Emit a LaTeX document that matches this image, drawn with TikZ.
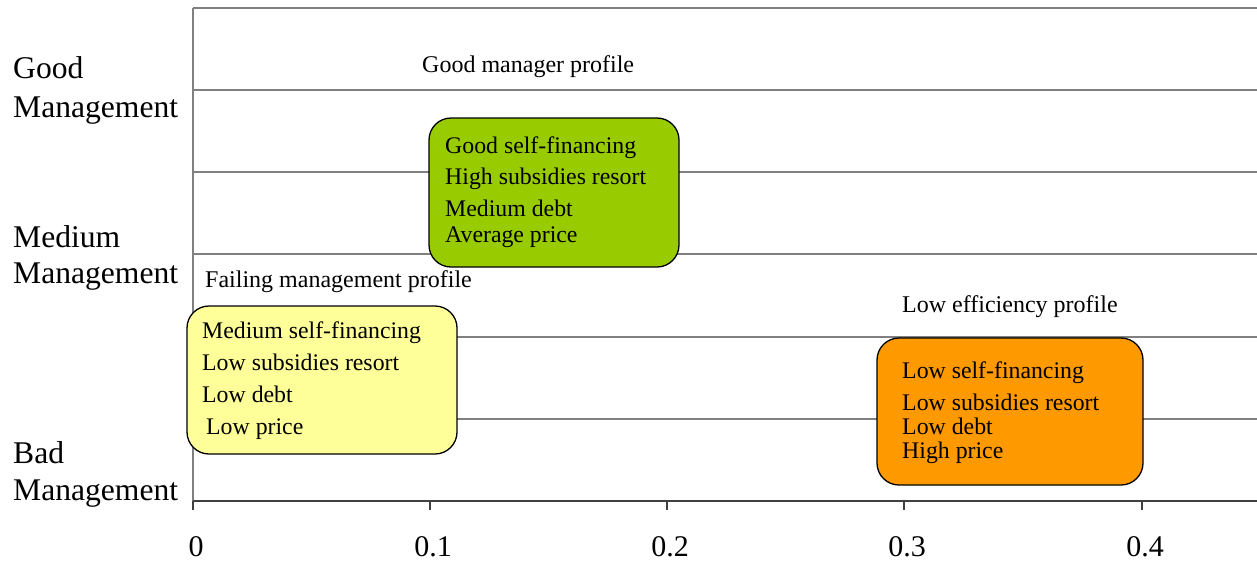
\documentclass[tikz,border=0pt]{standalone}
\usepackage{fontspec}
\setmainfont{Liberation Serif}[Ligatures=NoCommon]
\definecolor{gridc}{HTML}{808080}
\definecolor{axisc}{HTML}{404040}
\definecolor{greenbox}{HTML}{99CC00}
\definecolor{yellowbox}{HTML}{FFFF99}
\definecolor{orangebox}{HTML}{FF9900}
\begin{document}
\begin{tikzpicture}[x=1pt,y=-1pt,
  gridline/.style={draw=gridc,line width=1.2pt},
  axisline/.style={draw=axisc,line width=1.4pt},
  profilebox/.style={draw=black,line width=1.3pt,rounded corners=22pt},
  boxtext/.style={anchor=base west,inner sep=0pt,font=\fontsize{23.8}{28}\selectfont},
  labeltext/.style={anchor=base west,inner sep=0pt,font=\fontsize{24}{28}\selectfont},
  ylabel/.style={anchor=base west,inner sep=0pt,font=\fontsize{31.6}{38}\selectfont},
  ticklabel/.style={anchor=base,inner sep=0pt,font=\fontsize{30}{36}\selectfont}]
\useasboundingbox (0,0) rectangle (1257,563);
% coordinates
\coordinate (o) at (193,501);
\coordinate (top) at (193,8);
\coordinate (topr) at (1257,8);
\coordinate (xr) at (1257,501);
\foreach \y [count=\i] in {90,172,254,337,419} {
  \coordinate (gl\i) at (193,\y);
  \coordinate (gr\i) at (1257,\y);
}
% grid
\foreach \i in {1,...,5} { \draw[gridline] (gl\i) -- (gr\i); }
\draw[gridline] (top) -- (topr);
\draw[gridline] (o) -- (top);
\draw[axisline] (o) -- (xr);
% ticks
\foreach \x/\lab [count=\i] in {193/0,430/0.1,667/0.2,904/0.3,1142/0.4} {
  \coordinate (t\i) at (\x,501);
  \coordinate (tb\i) at (\x,510);
  \draw[axisline] (t\i) -- (tb\i);
  \node[ticklabel] (tl\i) at (\x+3,556) {\lab};
}
% y labels
\node[ylabel] (yg1) at (13,78) {Good};
\node[ylabel] (yg2) at (13,117) {Management};
\node[ylabel] (ym1) at (13,247) {Medium};
\node[ylabel] (ym2) at (13,283) {Management};
\node[ylabel] (yb1) at (13,463) {Bad};
\node[ylabel] (yb2) at (13,500) {Management};
% profile labels
\node[labeltext] (lgood) at (422,72) {Good manager profile};
\node[labeltext] (lfail) at (205,287) {Failing management profile};
\node[labeltext] (llow) at (902,312) {Low efficiency profile};
% green box
\path[profilebox,fill=greenbox] (429,118) rectangle (679,267);
\node[boxtext] (g1) at (445,153) {Good self-financing};
\node[boxtext] (g2) at (445,184) {High subsidies resort};
\node[boxtext] (g3) at (445,216) {Medium debt};
\node[boxtext] (g4) at (445,242) {Average price};
% yellow box
\path[profilebox,fill=yellowbox] (187,306) rectangle (457,454);
\node[boxtext] (y1) at (202,338) {Medium self-financing};
\node[boxtext] (y2) at (202,370) {Low subsidies resort};
\node[boxtext] (y3) at (202,402) {Low debt};
\node[boxtext] (y4) at (206,434) {Low price};
% orange box
\path[profilebox,fill=orangebox] (877,338) rectangle (1143,485);
\node[boxtext] (o1) at (902,378) {Low self-financing};
\node[boxtext] (o2) at (902,410) {Low subsidies resort};
\node[boxtext] (o3) at (902,434) {Low debt};
\node[boxtext] (o4) at (902,458) {High price};
\end{tikzpicture}
\end{document}
